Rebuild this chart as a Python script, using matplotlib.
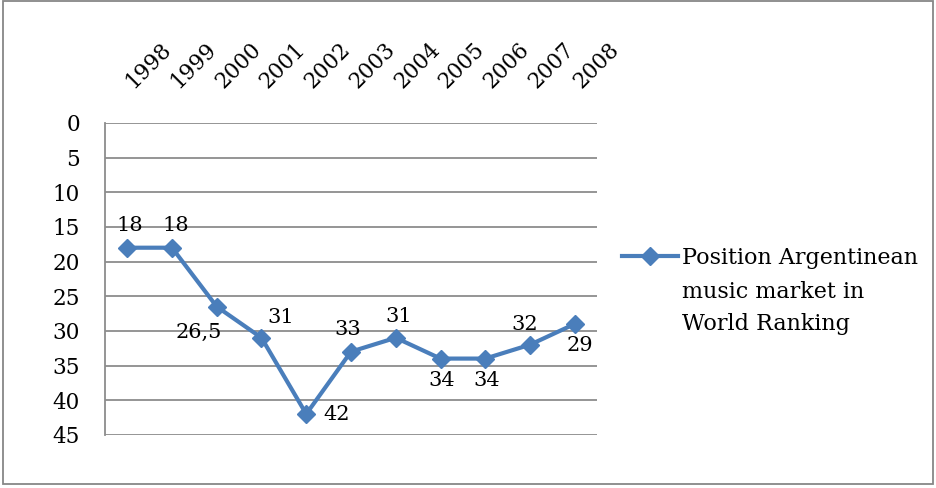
import matplotlib.pyplot as plt
from matplotlib.patches import Rectangle
from matplotlib.transforms import ScaledTranslation

# Argentinean music market position in the world ranking
years = ['1998', '1999', '2000', '2001', '2002', '2003', '2004', '2005', '2006', '2007', '2008']
position = [18, 18, 26.5, 31, 42, 33, 31, 34, 34, 32, 29]
series_name = ['Position Argentinean', 'music market in', 'World Ranking']
# label offsets (pixels) so the numbers don't sit on the line
label_offsets = [(3, 22), (4, 22), (-18, -26), (19, 20), (30, 0), (-3, 22),
                 (3, 21), (1, -22), (1, -22), (-5, 20), (5, -22)]

plt.rcParams['font.family'] = ['DejaVu Serif']

line_color = '#4a7ebb'
grid_color = '#8c8c8c'

W, H = 936, 488
fig = plt.figure(figsize=(W / 100, H / 100), dpi=100)
ax = fig.add_axes([0.112, 0.109, 0.526, 0.639])

x = list(range(len(years)))
ax.plot(x, position, color=line_color, lw=3, marker='D', ms=9, label=series_name[0])

for xi, val, off in zip(x, position, label_offsets):
    txt = f'{val:g}'.replace('.', ',')
    ax.annotate(txt, (xi, val), xytext=off, textcoords='offset pixels',
                ha='center', va='center', fontsize=15)

ax.set_ylim(45, 0)
ax.set_yticks(range(0, 50, 5))
ax.set_xlim(-0.5, len(years) - 0.5)
ax.set_xticks(x)
ax.set_xticklabels(years, rotation=45, ha='left', va='bottom', rotation_mode='anchor')
ax.xaxis.tick_top()
ax.tick_params(axis='x', length=0, pad=22, labelsize=15.5)
ax.tick_params(axis='y', length=0, pad=18, labelsize=15.5)
shift = ScaledTranslation(10 / 100, 0, fig.dpi_scale_trans)
for lbl in ax.get_xticklabels():
    lbl.set_transform(lbl.get_transform() + shift)

ax.grid(axis='y', color=grid_color, lw=1.3)
ax.set_axisbelow(True)
for side in ['top', 'right', 'bottom']:
    ax.spines[side].set_visible(False)
ax.spines['left'].set_color(grid_color)
ax.spines['left'].set_linewidth(1.3)

leg = ax.legend(loc='center left', bbox_to_anchor=(0.665, 1 - 258 / H),
                bbox_transform=fig.transFigure, frameon=False, fontsize=16,
                handlelength=2.5, handletextpad=0.2, numpoints=1,
                borderaxespad=0, borderpad=0)

# remaining lines of the series name, under the legend entry
fig.canvas.draw()
bb = leg.get_texts()[0].get_window_extent().transformed(fig.transFigure.inverted())
for line, base_y in zip(series_name[1:], [298.5, 330]):
    fig.text(bb.x0, 1 - base_y / H, line, fontsize=16, ha='left', va='baseline')

# outer frame
fig.patches.append(Rectangle((0.003, 0.008), 0.994, 0.99, transform=fig.transFigure,
                             fill=False, edgecolor='#878787', lw=1.3))

fig.savefig('out.png', dpi=100)
